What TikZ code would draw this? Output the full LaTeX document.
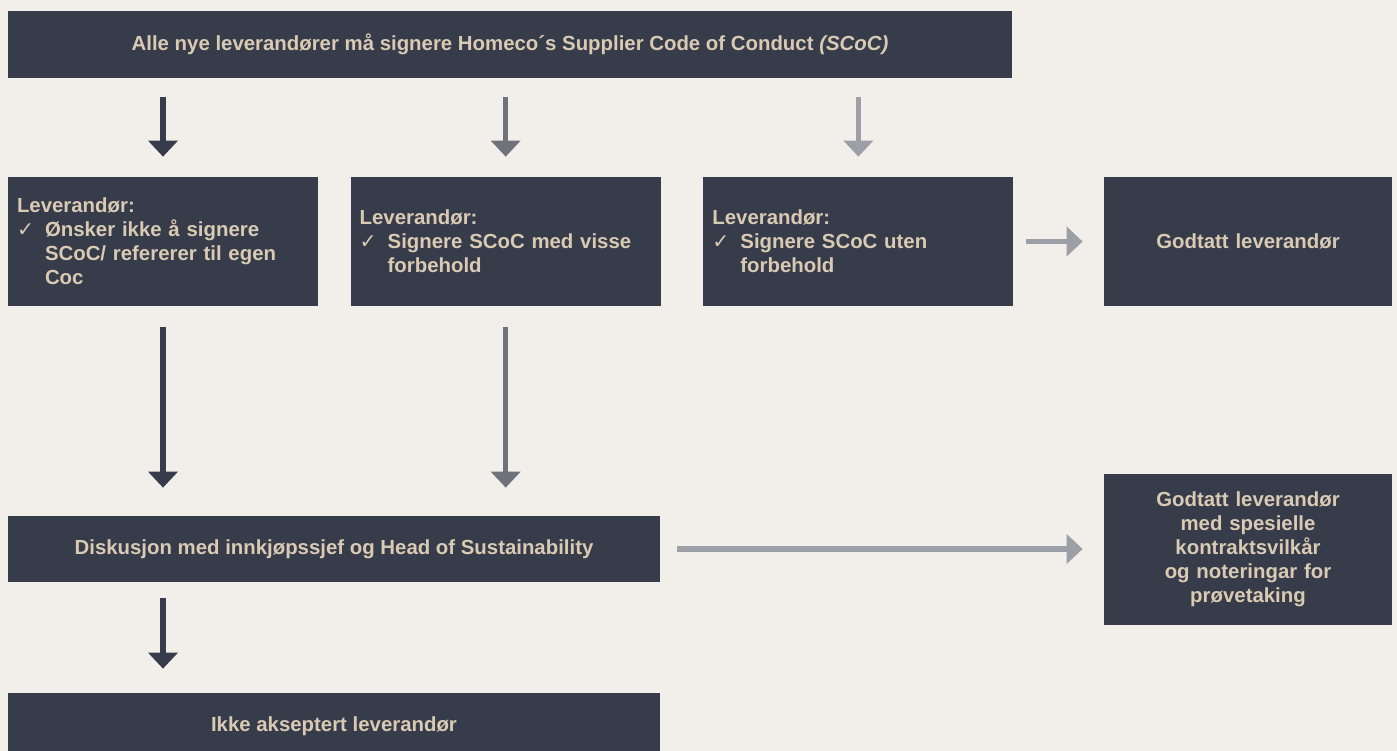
\documentclass[tikz,border=0pt]{standalone}
\usepackage{fontspec}
\setmainfont{Liberation Sans}
\newfontfamily\chkfont{DejaVu Sans}
\usetikzlibrary{arrows.meta,positioning}

\definecolor{bg}{HTML}{F2EFEA}
\definecolor{slate}{HTML}{373C4A}
\definecolor{sand}{HTML}{D9CAB3}
\definecolor{arrmid}{HTML}{6F727B}
\definecolor{arrlight}{HTML}{9C9FA5}

\newcommand{\chk}{\makebox[0.56cm][l]{{\chkfont\char"2713}}}
\newcommand{\ind}{\hspace*{0.56cm}}

\tikzset{
  box/.style={fill=slate, text=sand, font=\bfseries\fontsize{11.6}{13.6}\selectfont,
    inner xsep=0.18cm, inner ysep=0pt},
  lbox/.style={box, text width=5.84cm, align=left, minimum height=2.58cm},
  wbox/.style={box, minimum width=13.04cm, minimum height=1.32cm, align=center},
  rbox/.style={box, text width=5.40cm, align=center},
  arr/.style={line width=2.85pt, -{Triangle[width=0.58cm,length=0.32cm]}},
}

\begin{document}
\begin{tikzpicture}
    \fill[bg] (0,0) rectangle (27.94,-15.02);
    \useasboundingbox (0,0) rectangle (27.94,-15.02);

    % top row
    \node[box, minimum width=20.08cm, minimum height=1.34cm] (top) at (10.2,-0.89)
      {Alle nye leverandører må signere Homeco´s Supplier Code of Conduct \textit{(SCoC)}};

    % supplier answers
    \node[lbox] (l1) at (3.26,-4.83)
      {Leverandør:\\\chk Ønsker ikke å signere\\\ind SCoC/ refererer til egen\\\ind Coc};
    \node[lbox, right=0.64cm of l1] (l2)
      {Leverandør:\\\chk Signere SCoC med visse\\\ind forbehold};
    \node[lbox, right=0.84cm of l2] (l3)
      {Leverandør:\\\chk Signere SCoC uten\\\ind forbehold};
    \node[rbox, minimum height=2.58cm] (ok) at (24.96,-4.83) {Godtatt leverandør};

    % follow up
    \node[wbox] (disk) at (6.68,-10.98) {Diskusjon med innkjøpssjef og Head of Sustainability};
    \node[rbox, minimum height=3.02cm] (ok2) at (24.96,-10.99)
      {Godtatt leverandør\\ med spesielle\\ kontraktsvilkår\\ og noteringar for\\ prøvetaking};
    \node[wbox] (ikke) at (6.68,-14.52) {Ikke akseptert leverandør};

    \foreach \n/\c in {l1/slate, l2/arrmid, l3/arrlight}
      \draw[arr, \c, shorten <=0.38cm, shorten >=0.4cm] (top.south -| \n) -- (\n.north);

    \foreach \n/\c in {l1/slate, l2/arrmid}
      \draw[arr, \c, shorten <=0.42cm, shorten >=0.56cm] (\n.south) -- (disk.north -| \n);

    \draw[arr, arrlight, shorten <=0.24cm, shorten >=0.42cm] (l3.east) -- (ok.west);
    \draw[arr, arrlight, shorten <=0.34cm, shorten >=0.42cm] (disk.east) -- (disk.east -| ok2.west);
    \draw[arr, slate, shorten <=0.32cm, shorten >=0.48cm] (disk.south -| l1) -- (ikke.north -| l1);

  \end{tikzpicture}
\end{document}
